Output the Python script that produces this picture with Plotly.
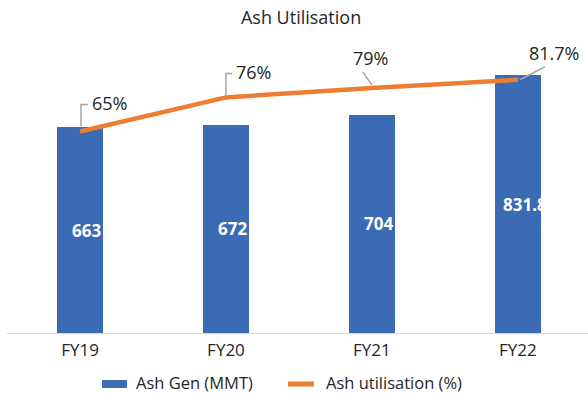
import plotly.graph_objects as go

# Chart data
years = ["FY19", "FY20", "FY21", "FY22"]
ash_gen = [663, 672, 704, 831.8]          # MMT
ash_util = [65, 76, 79, 81.7]             # %
series_names = ["Ash Gen (MMT)", "Ash utilisation (%)"]

BLUE = "#3B6BB5"
ORANGE = "#ED7D31"
GREY = "#A6A6A6"
TEXT = "#262626"
FONT = "Open Sans"

W, H = 588, 394
L, R, T, B = 7, 0, 54, 61
plot_w, plot_h = W - L - R, H - T - B


def px_x(px):
    return (px - L) / plot_w


def px_y(py):
    return (H - B - py) / plot_h


fig = go.Figure()

fig.add_trace(go.Bar(
    x=years, y=ash_gen, name=series_names[0],
    marker=dict(color=BLUE, line=dict(width=0)),
    width=0.315, showlegend=False,
))

fig.add_trace(go.Scatter(
    x=years, y=ash_util, name=series_names[1], yaxis="y2",
    mode="lines", line=dict(color=ORANGE, width=4.5), showlegend=False,
))

# value labels inside the bars (white, bold)
for cat, v in zip(years, ash_gen):
    fig.add_annotation(
        x=cat, y=v / 2, xref="x", yref="y", text=f"{v:g}",
        showarrow=False, xshift=7,
        font=dict(family=FONT, size=17, color="white", weight="bold"),
    )

# percentage labels with leader lines
label_offsets = [(30, 29), (28, 25), (-1, 30), (36, 27)]
leader_paths = [
    "M1,5 L1,27 L8,27",
    "M0,2 L0,24 L6,24",
    "M0,3 L-9,16",
    "M2,0 L27,13",
]
for cat, v, (dx, dy), path in zip(years, ash_util, label_offsets, leader_paths):
    fig.add_annotation(
        x=cat, y=v, xref="x", yref="y2", text=f"{v:g}%",
        showarrow=False, xshift=dx, yshift=dy,
        font=dict(family=FONT, size=18, color=TEXT),
    )
    fig.add_shape(
        type="path", xref="x", yref="y2",
        xsizemode="pixel", ysizemode="pixel",
        xanchor=cat, yanchor=v, path=path,
        line=dict(color=GREY, width=1.5), layer="above",
    )

# legend drawn below the axis
legend_y = px_y(382)
fig.add_shape(type="rect", xref="paper", yref="paper",
              x0=px_x(102), x1=px_x(127), y0=px_y(388), y1=px_y(380),
              fillcolor=BLUE, line=dict(width=0))
fig.add_shape(type="line", xref="paper", yref="paper",
              x0=px_x(288), x1=px_x(314), y0=px_y(384), y1=px_y(384),
              line=dict(color=ORANGE, width=5))
for name, lx in zip(series_names, [135, 325]):
    fig.add_annotation(
        x=px_x(lx), y=legend_y, xref="paper", yref="paper",
        text=name, showarrow=False, xanchor="left", yanchor="middle",
        borderpad=0,
        font=dict(family=FONT, size=16.5, color=TEXT),
    )

fig.update_layout(
    width=W, height=H,
    margin=dict(l=L, r=R, t=T, b=B),
    paper_bgcolor="white", plot_bgcolor="white",
    font=dict(family=FONT, size=17, color=TEXT),
    title=dict(
        text="Ash Utilisation", x=0.512, xanchor="center",
        y=1 - 18 / H, yanchor="middle",
        font=dict(family=FONT, size=18, color=TEXT),
    ),
    xaxis=dict(
        range=[-0.5, 3.48], showgrid=False, zeroline=False,
        showline=True, linecolor="#D9D9D9", linewidth=1,
        ticks="", tickfont=dict(size=17, color=TEXT), ticklabelstandoff=2,
        automargin=False,
    ),
    yaxis=dict(range=[0, 900], visible=False, showgrid=False),
    yaxis2=dict(range=[0, 90], overlaying="y", visible=False, showgrid=False),
    showlegend=False,
    bargap=0,
)

fig.write_html("out.html")
